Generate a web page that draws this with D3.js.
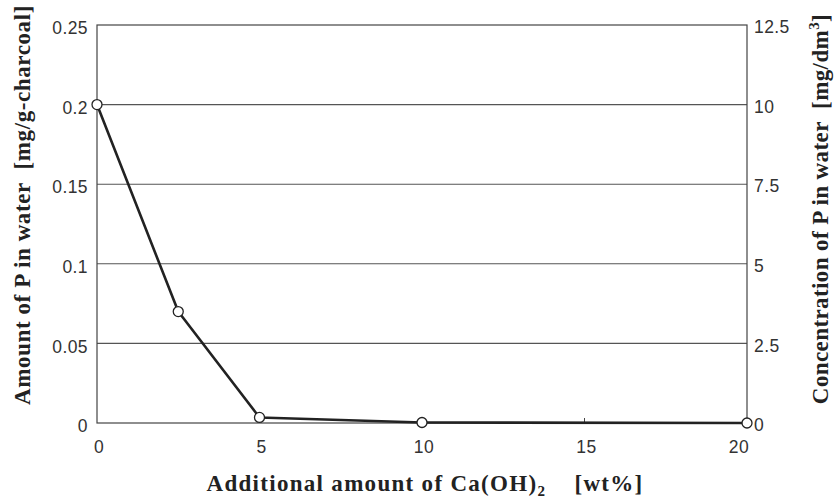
<!DOCTYPE html>
<html><head><meta charset="utf-8">
<script src="https://cdn.jsdelivr.net/npm/d3@7"></script>
<style>body{margin:0;background:#fff}</style>
</head><body>
<svg id="c" width="837" height="500"></svg>
<script>
const xValues = [0, 2.5, 5, 10, 20];
const yValues = [0.2, 0.07, 0.0035, 0.0003, 0];
const xTicks = [0, 5, 10, 15, 20];
const yTicks = [0, 0.05, 0.1, 0.15, 0.2, 0.25];
const yTickLabels = ["0", "0.05", "0.1", "0.15", "0.2", "0.25"];
const y2Ticks = [0, 2.5, 5, 7.5, 10, 12.5];
const y2TickLabels = ["0", "2.5", "5", "7.5", "10", "12.5"];

const svg = d3.select("#c");
const L = 97, R = 747, T = 25, B = 423;
const x = d3.scaleLinear().domain([0, 20]).range([L, R]);
const y = d3.scaleLinear().domain([0, 0.25]).range([B, T]);
const y2 = d3.scaleLinear().domain([0, 12.5]).range([B, T]);
const tickColor = "#333";
const tickFont = "Liberation Sans, Arial, sans-serif";

// gridlines
svg.append("g").selectAll("line").data(yTicks.slice(1, -1)).join("line")
  .attr("x1", L).attr("x2", R).attr("y1", d => y(d)).attr("y2", d => y(d))
  .attr("stroke", "#555").attr("stroke-width", 1.1);

// frame
svg.append("rect").attr("x", L).attr("y", T).attr("width", R - L).attr("height", B - T)
  .attr("fill", "none").attr("stroke", "#444").attr("stroke-width", 1.2);

// x ticks (inside, short)
svg.append("g").selectAll("line").data(xTicks.slice(1, -1)).join("line")
  .attr("x1", d => x(d)).attr("x2", d => x(d)).attr("y1", B).attr("y2", B - 5)
  .attr("stroke", "#444");

// left axis labels
svg.append("g").selectAll("text").data(yTicks).join("text")
  .attr("x", L - 9).attr("y", d => y(d) + 3).attr("dy", "0.35em")
  .attr("text-anchor", "end").attr("font-family", tickFont).attr("font-size", 17.5)
  .attr("letter-spacing", 0.4)
  .attr("fill", tickColor).text((d, i) => yTickLabels[i]);

// right axis labels
svg.append("g").selectAll("text").data(y2Ticks).join("text")
  .attr("x", R + 7).attr("y", d => y2(d) + 2).attr("dy", "0.35em")
  .attr("text-anchor", "start").attr("font-family", tickFont).attr("font-size", 17.5)
  .attr("letter-spacing", 0.4)
  .attr("fill", tickColor).text((d, i) => y2TickLabels[i]);

// x labels
svg.append("g").selectAll("text").data(xTicks).join("text")
  .attr("x", d => x(d) + (d === 20 ? -8 : 2)).attr("y", 447)
  .attr("dy", "0.35em").attr("text-anchor", "middle")
  .attr("font-family", tickFont).attr("font-size", 17.5).attr("letter-spacing", 0.4)
  .attr("fill", tickColor)
  .text(d => d);

// line
const line = d3.line().x((d, i) => x(xValues[i])).y(d => y(d));
svg.append("path").datum(yValues).attr("d", line)
  .attr("fill", "none").attr("stroke", "#222").attr("stroke-width", 2.6)
  .attr("stroke-linejoin", "round");

svg.append("g").selectAll("circle").data(yValues).join("circle")
  .attr("cx", (d, i) => x(xValues[i])).attr("cy", d => y(d)).attr("r", 5)
  .attr("fill", "#fff").attr("stroke", "#222").attr("stroke-width", 1.3);

// axis titles
const titleFont = "Liberation Serif, Times New Roman, serif";
const xt = svg.append("text").attr("x", 425).attr("y", 491).attr("text-anchor", "middle")
  .attr("font-family", titleFont).attr("font-weight", "bold").attr("font-size", 23)
  .attr("letter-spacing", 1.3).attr("fill", "#222");
xt.append("tspan").text("Additional amount of Ca(OH)");
xt.append("tspan").attr("font-size", 15).attr("dy", 5).text("2");
xt.append("tspan").attr("dy", -5).text("\u00a0\u00a0\u00a0\u00a0[wt%]");

svg.append("text").attr("transform", "translate(30,205) rotate(-90)")
  .attr("text-anchor", "middle").attr("font-family", titleFont).attr("font-weight", "bold")
  .attr("font-size", 23).attr("letter-spacing", 0.6).attr("fill", "#222")
  .text("Amount of P in water\u00a0\u00a0[mg/g-charcoal]");

const rt = svg.append("text").attr("transform", "translate(828,209) rotate(-90)")
  .attr("text-anchor", "middle").attr("font-family", titleFont).attr("font-weight", "bold")
  .attr("font-size", 23).attr("letter-spacing", 0.4).attr("fill", "#222");
rt.append("tspan").text("Concentration of P in water\u00a0\u00a0[mg/dm");
rt.append("tspan").attr("font-size", 15).attr("dy", -9).text("3");
rt.append("tspan").attr("dy", 9).text("]");
</script>
</body></html>
